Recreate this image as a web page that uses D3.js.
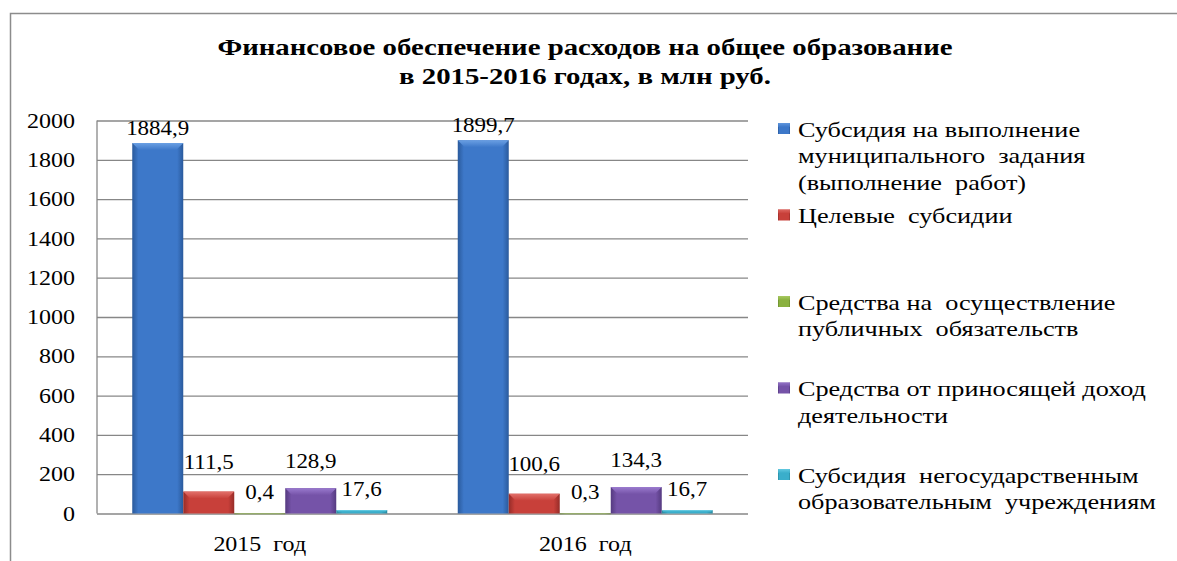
<!DOCTYPE html>
<html><head><meta charset="utf-8">
<script src="https://cdn.jsdelivr.net/npm/d3@7"></script>
<style>
body{margin:0;background:#fff}
svg{display:block}
</style></head>
<body><svg id="chart" width="1177" height="561"></svg>
<script>
// ---- data ----
const titleLines = ["Финансовое обеспечение расходов на общее образование", "в 2015-2016 годах, в млн руб."];
const categories = ["2015  год", "2016  год"];
const seriesNames = [
  "Субсидия на выполнение муниципального задания (выполнение работ)",
  "Целевые субсидии",
  "Средства на осуществление публичных обязательств",
  "Средства от приносящей доход деятельности",
  "Субсидия негосударственным образовательным учреждениям"
];
const legendLines = [
  ["Субсидия на выполнение", "муниципального  задания", "(выполнение  работ)"],
  ["Целевые  субсидии"],
  ["Средства на  осуществление", "публичных  обязательств"],
  ["Средства от приносящей доход", "деятельности"],
  ["Субсидия  негосударственным", "образовательным  учреждениям"]
];
const values2015 = [1884.9, 111.5, 0.4, 128.9, 17.6];
const values2016 = [1899.7, 100.6, 0.3, 134.3, 16.7];
const labels2015 = ["1884,9", "111,5", "0,4", "128,9", "17,6"];
const labels2016 = ["1899,7", "100,6", "0,3", "134,3", "16,7"];
const yTicks = [0, 200, 400, 600, 800, 1000, 1200, 1400, 1600, 1800, 2000];

// ---- styles ----
const palette = [
  {base:"#3d78c9", light:"#6a9fe3", dark:"#2a5a9c"},
  {base:"#c8403a", light:"#e2706a", dark:"#962c28"},
  {base:"#8ab13f", light:"#b0d06a", dark:"#6a8a2e"},
  {base:"#7553a8", light:"#9a7ace", dark:"#553a80"},
  {base:"#3aaecb", light:"#6cd0e6", dark:"#2a8aa0"}
];
const labelGap = [8, 23, 14, 20, 14];
const FONT = "'Liberation Serif', serif";
const SX = 1.2;

const svg = d3.select("#chart");
const W = 1177, H = 561;
const plot = {left: 97, right: 748, top: 120.5, bottom: 513.5};

function styleText(sel, size, sx) {
  sel.style("font-family", FONT).style("font-size", size + "px").style("fill", "#000").style("white-space", "pre");
  sel.each(function() {
    const t = d3.select(this);
    const x = +t.attr("x") || 0, y = +t.attr("y") || 0;
    t.attr("transform", `translate(${x},${y}) scale(${sx},1) translate(${-x},${-y})`);
  });
}

// gradients
const defs = svg.append("defs");
palette.forEach((c, i) => {
  const g = defs.append("linearGradient").attr("id", "g" + i)
    .attr("x1", "0").attr("x2", "1").attr("y1", "0").attr("y2", "0");
  g.append("stop").attr("offset", "0").attr("stop-color", c.dark);
  g.append("stop").attr("offset", "0.12").attr("stop-color", c.base);
  g.append("stop").attr("offset", "0.88").attr("stop-color", c.base);
  g.append("stop").attr("offset", "1").attr("stop-color", c.dark);
  const t = defs.append("linearGradient").attr("id", "t" + i)
    .attr("x1", "0").attr("x2", "0").attr("y1", "0").attr("y2", "1");
  t.append("stop").attr("offset", "0").attr("stop-color", c.light);
  t.append("stop").attr("offset", "1").attr("stop-color", c.base);
});

// outer border (top and left visible)
svg.append("path").attr("d", `M10.5,${H + 5}V13.5H${W + 5}`)
  .attr("fill", "none").attr("stroke", "#8c8c8c").attr("stroke-width", 1.5);

// title
const title = svg.append("g");
titleLines.forEach((t, i) => {
  title.append("text").attr("x", 585).attr("y", 55 + i * 29)
    .attr("text-anchor", "middle").style("font-weight", "bold").text(t);
});
styleText(title.selectAll("text"), 24, SX);

// scales
const x0 = d3.scaleBand().domain(categories).range([plot.left, plot.right])
  .paddingInner(0.2166).paddingOuter(0.1083);
const x1 = d3.scaleBand().domain(d3.range(seriesNames.length)).range([0, x0.bandwidth()]);
const y = d3.scaleLinear().domain([0, 2000]).range([plot.bottom, plot.top]);

// gridlines
const grid = svg.append("g").attr("transform", `translate(${plot.left},0)`)
  .call(d3.axisLeft(y).tickValues(yTicks).tickSize(-(plot.right - plot.left)).tickFormat(""));
grid.select(".domain").remove();
grid.selectAll("line").attr("stroke", "#878787").attr("stroke-width", 1.3);

// axis line
svg.append("line").attr("x1", plot.left).attr("x2", plot.left).attr("y1", plot.top).attr("y2", plot.bottom)
  .attr("stroke", "#878787").attr("stroke-width", 1.3);

// y tick labels
const yAxis = svg.append("g").attr("transform", `translate(${plot.left},0)`)
  .call(d3.axisLeft(y).tickValues(yTicks).tickSize(0).tickPadding(22).tickFormat(d3.format("d")));
yAxis.select(".domain").remove();
yAxis.selectAll("text").attr("dy", "0.33em");
styleText(yAxis.selectAll("text"), 20, SX);

// bars
const data = [values2015, values2016];
const labs = [labels2015, labels2016];
categories.forEach((cat, ci) => {
  const g = svg.append("g");
  data[ci].forEach((v, si) => {
    const bx = x0(cat) + x1(si), bw = x1.bandwidth();
    const top = y(v), bh = y(0) - y(v);
    g.append("rect").attr("x", bx).attr("y", top).attr("width", bw).attr("height", Math.max(bh, 0.8))
      .attr("fill", `url(#g${si})`);
    const b = Math.min(7, bh * 0.5);
    if (bh > 2) {
      g.append("path").attr("d",
        `M${bx},${top}L${bx + bw},${top}L${bx + bw - b},${top + b}L${bx + b},${top + b}Z`)
        .attr("fill", `url(#t${si})`);
    }
    g.append("text").attr("class", "vl").attr("x", bx + bw / 2).attr("y", top - labelGap[si])
      .attr("text-anchor", "middle").text(labs[ci][si]);
  });
  styleText(g.selectAll("text.vl"), 20, 1.15);
});

// category labels
const cl = svg.append("g");
categories.forEach(cat => {
  cl.append("text").attr("x", x0(cat) + x0.bandwidth() / 2).attr("y", 551)
    .attr("text-anchor", "middle").text(cat);
});
styleText(cl.selectAll("text"), 20, SX);

// legend
const legend = svg.append("g");
const entryStep = 86.5, lineH = 26.5, firstBase = 137;
legendLines.forEach((lines, i) => {
  const base = firstBase + i * entryStep;
  legend.append("rect").attr("x", 778).attr("y", base - 14).attr("width", 12).attr("height", 11)
    .attr("fill", `url(#g${i})`);
  legend.append("rect").attr("x", 778).attr("y", base - 14).attr("width", 12).attr("height", 4)
    .attr("fill", `url(#t${i})`).attr("opacity", 0.8);
  lines.forEach((ln, k) => {
    legend.append("text").attr("x", 798).attr("y", base + k * lineH).text(ln);
  });
});
styleText(legend.selectAll("text"), 21.5, 1.22);
</script>
</body></html>
